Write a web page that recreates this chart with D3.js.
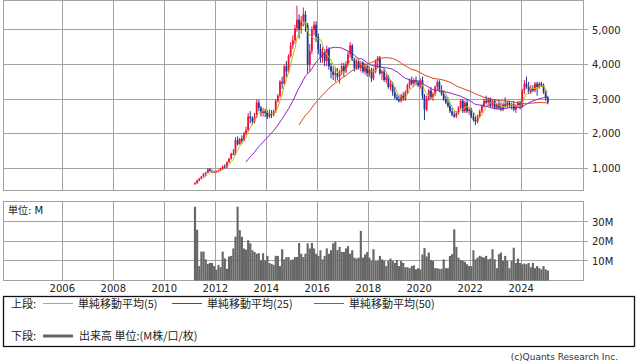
<!DOCTYPE html>
<html>
<head>
<meta charset="utf-8">
<script src="https://cdn.jsdelivr.net/npm/d3@7/dist/d3.min.js"></script>
<style>
  body { margin: 0; background: #fff; }
  svg { display: block; font-family: "DejaVu Sans", "Noto Sans CJK JP", sans-serif; }
</style>
</head>
<body>
<div class="vis-chart"></div>
<script>
// monthly bars, first one is March 2011
const startYear = 2011, startMonth = 2;

// rows: 2011 (Mar-Dec), then one row per year, last row Jan 2025
const opens = [
  540, 570, 650, 700, 760, 840, 880, 970, 920, 890,
  900, 910, 940, 1000, 1050, 1020, 1180, 1280, 1420, 1400, 1820, 1700,
  1850, 1800, 2000, 2100, 2500, 2450, 2350, 2500, 2900, 2750, 2600, 2650,
  2600, 2500, 2600, 2550, 2650, 2950, 3100, 3500, 3450, 3950, 3800, 4250,
  4550, 4700, 5050, 5300, 5000, 5250, 5450, 5150, 4000, 4400, 5000, 5150,
  4800, 4450, 4200, 4350, 4100, 4450, 3950, 3800, 3700, 3750, 3650, 3800,
  3950, 3800, 4000, 4300, 4550, 4150, 3900, 4100, 3900, 4050, 3800, 3950,
  3750, 3850, 3600, 3800, 4100, 4200, 3750, 3800, 3550, 3650, 3350, 3450,
  3200, 3050, 3000, 2950, 3100, 3000, 3200, 3400, 3550, 3450, 3550, 3500,
  3400, 3550, 3100, 2700, 3000, 3250, 3050, 3150, 3350, 3500, 3250, 3150,
  3000, 2900, 2800, 2650, 2550, 2500, 2600, 2750, 2950, 2650, 2900, 2650,
  2700, 2500, 2400, 2350, 2500, 2650, 2800, 2950, 2900, 3000, 2800, 2950,
  2750, 2850, 2750, 2700, 2850, 2800, 2900, 2800, 2850, 2700, 2800, 2900,
  2800, 3250, 3450, 3350, 3200, 3300, 3250, 3450, 3350, 3450, 3400, 3200,
  3050
];
const highs = [
  600, 670, 720, 780, 860, 900, 1000, 1010, 960, 930,
  940, 960, 1020, 1080, 1120, 1200, 1300, 1450, 1550, 1900, 1920, 1880,
  1950, 2050, 2200, 2600, 2650, 2500, 2600, 3000, 2980, 2800, 2750, 2720,
  2680, 2700, 2680, 2700, 3000, 3150, 3550, 3650, 4000, 4100, 4300, 4650,
  4850, 5150, 5700, 5450, 5400, 5650, 5550, 5200, 4600, 5100, 5250, 5250,
  4900, 4600, 4500, 4450, 4550, 4500, 4050, 3950, 3900, 3900, 3850, 4050,
  4050, 4100, 4400, 4650, 4600, 4200, 4150, 4150, 4100, 4100, 4050, 4000,
  3950, 3900, 3900, 4150, 4250, 4250, 3850, 3900, 3750, 3700, 3550, 3500,
  3350, 3150, 3100, 3150, 3200, 3250, 3450, 3600, 3650, 3600, 3650, 3550,
  3600, 3650, 3150, 3100, 3300, 3350, 3200, 3400, 3550, 3550, 3400, 3250,
  3100, 3050, 2900, 2750, 2650, 2650, 2800, 3000, 3000, 2950, 3000, 2750,
  2750, 2600, 2500, 2550, 2700, 2850, 3000, 3100, 3050, 3050, 3000, 3000,
  2900, 2950, 2900, 2900, 3050, 2950, 2950, 2900, 2950, 2850, 2950, 2950,
  3300, 3550, 3650, 3500, 3400, 3400, 3500, 3500, 3500, 3500, 3450, 3250,
  3100
];
const lows = [
  520, 550, 620, 680, 740, 780, 860, 900, 860, 860,
  870, 890, 920, 960, 980, 1000, 1150, 1250, 1380, 1380, 1650, 1680,
  1720, 1780, 1950, 2050, 2300, 2250, 2300, 2450, 2650, 2500, 2500, 2480,
  2420, 2450, 2450, 2500, 2600, 2900, 3050, 3300, 3400, 3650, 3750, 4200,
  4450, 4600, 4950, 4750, 4900, 5100, 4950, 3750, 3800, 4300, 4850, 4650,
  4300, 4050, 4050, 3950, 3950, 3850, 3600, 3550, 3500, 3550, 3450, 3700,
  3650, 3750, 3950, 4200, 4100, 3800, 3850, 3850, 3800, 3750, 3700, 3650,
  3650, 3500, 3550, 3750, 3900, 3700, 3550, 3500, 3450, 3300, 3250, 3100,
  3000, 2950, 2900, 2900, 2950, 2950, 3150, 3300, 3400, 3350, 3400, 3350,
  3300, 3000, 2400, 2650, 2950, 3000, 2950, 3100, 3250, 3200, 3100, 2950,
  2850, 2750, 2600, 2500, 2450, 2450, 2550, 2700, 2600, 2600, 2600, 2550,
  2450, 2350, 2250, 2300, 2450, 2600, 2750, 2850, 2800, 2750, 2750, 2700,
  2700, 2700, 2650, 2650, 2750, 2750, 2750, 2700, 2650, 2600, 2750, 2700,
  2750, 3150, 3300, 3150, 3150, 3200, 3200, 3100, 3300, 3350, 3150, 2950,
  2850
];
const closes = [
  570, 650, 700, 760, 840, 880, 970, 920, 890, 900,
  910, 940, 1000, 1050, 1020, 1180, 1280, 1420, 1400, 1820, 1700, 1850,
  1800, 2000, 2100, 2500, 2450, 2350, 2500, 2900, 2750, 2600, 2650, 2600,
  2500, 2600, 2550, 2650, 2950, 3100, 3500, 3450, 3950, 3800, 4250, 4550,
  4700, 5050, 5300, 5000, 5250, 5450, 5150, 4000, 4400, 5000, 5150, 4800,
  4450, 4200, 4350, 4100, 4450, 3950, 3800, 3700, 3750, 3650, 3800, 3950,
  3800, 4000, 4300, 4550, 4150, 3900, 4100, 3900, 4050, 3800, 3950, 3750,
  3850, 3600, 3800, 4100, 4200, 3750, 3800, 3550, 3650, 3350, 3450, 3200,
  3050, 3000, 2950, 3100, 3000, 3200, 3400, 3550, 3450, 3550, 3500, 3400,
  3550, 3100, 2700, 3000, 3250, 3050, 3150, 3350, 3500, 3250, 3150, 3000,
  2900, 2800, 2650, 2550, 2500, 2600, 2750, 2950, 2650, 2900, 2650, 2700,
  2500, 2400, 2350, 2500, 2650, 2800, 2950, 2900, 3000, 2800, 2950, 2750,
  2850, 2750, 2700, 2850, 2800, 2900, 2800, 2850, 2700, 2800, 2900, 2800,
  3250, 3450, 3350, 3200, 3300, 3250, 3450, 3350, 3450, 3400, 3200, 3050,
  2900
];
// volume, millions
const volumes = [
  37.8, 26, 7.4, 14.8, 14.8, 10.8, 8.5, 9, 9, 7.4,
  5.5, 8, 6.8, 14.8, 11.3, 6, 12.3, 12.6, 16.4, 22.4, 37.8, 25.8,
  22.4, 16.4, 15.8, 20.6, 19, 15.5, 14.6, 13.7, 14, 10.3, 14, 10.3,
  12.6, 9, 8.5, 8, 12.6, 12.6, 7.4, 16, 10.8, 12, 12, 10.3,
  10.8, 12, 12, 19.2, 13.7, 12, 13.7, 19, 16.4, 19.2, 16.4, 13.7,
  12.6, 15.5, 10.8, 12.6, 16.4, 13.7, 15.5, 19, 19.9, 15.5, 17.2, 14.6,
  14.6, 16.4, 17.6, 13.7, 15.5, 11.7, 11.3, 11.7, 25.4, 11.7, 13.3, 14.6,
  11.7, 10, 16, 10, 10, 12.6, 10.8, 10, 7.4, 10, 11.2, 10,
  9, 10.5, 7.4, 10, 9, 6.8, 6.8, 6.3, 7.4, 7.7, 5.7, 6.3,
  5.7, 13.3, 16.6, 12.3, 14.3, 10.5, 10, 6.3, 6.3, 5.9, 6, 10.8,
  6.3, 6.3, 12.6, 13.5, 26.2, 17.2, 11.7, 10.5, 10, 9.6, 8.3, 7.4,
  7.4, 15.5, 10.8, 11.7, 12.6, 12.1, 11.7, 12.6, 10.8, 11.2, 16, 10.8,
  6.3, 13.5, 14.3, 10, 12.6, 10, 6.3, 10, 16.8, 9, 11.2, 9,
  8.3, 8.7, 8.3, 9, 6.8, 9, 6.3, 7.4, 6.3, 5.7, 7.4, 5.7,
  5.1
];

const yearTicks = [2006, 2008, 2010, 2012, 2014, 2016, 2018, 2020, 2022, 2024];
const priceTicks = [1000, 2000, 3000, 4000, 5000];
const volumeTicks = [10, 20, 30];
const maPeriods = [5, 25, 50];
const maColors = ["#b3c000", "#8a1fc9", "#d9410f"];
const maLabels = ["単純移動平均(5)", "単純移動平均(25)", "単純移動平均(50)"];

const width = 638, height = 362;
const left = 3, right = 583;
const pTop = 0.5, pBottom = 190;
const vTop = 201, vBottom = 280;

const svg = d3.select('.vis-chart').append('svg')
    .attr('width', width)
    .attr('height', height);

const rows = closes.map((c, i) => ({
    start: new Date(startYear, startMonth + i, 1),
    end: new Date(startYear, startMonth + i + 1, 1),
    mid: new Date(startYear, startMonth + i, 16),
    o: opens[i], h: highs[i], l: lows[i], c: c, v: volumes[i]
}));

const x = d3.scaleTime()
    .domain([new Date(2003, 8, 4), new Date(2026, 5, 4)])
    .range([left, right]);
const y = d3.scaleLinear().domain([372, 5853]).range([pBottom, pTop]);
const yv = d3.scaleLinear().domain([0, 40.7]).range([vBottom + 0.5, vTop]);

const gridColor = '#a3a3a3';
const yearDates = yearTicks.map(t => new Date(t, 0, 1));

// panels: grid + border
function panel(top, bottom, yScale, ticks, fmt) {
    const g = svg.append('g').attr('shape-rendering', 'crispEdges');
    g.selectAll('.vg').data(yearDates).join('line')
        .attr('x1', d => x(d)).attr('x2', d => x(d))
        .attr('y1', top).attr('y2', bottom)
        .attr('stroke', gridColor);
    g.selectAll('.hg').data(ticks).join('line')
        .attr('x1', left).attr('x2', right + 5)
        .attr('y1', d => yScale(d)).attr('y2', d => yScale(d))
        .attr('stroke', gridColor);
    g.append('rect')
        .attr('x', left).attr('y', top)
        .attr('width', right - left).attr('height', bottom - top)
        .attr('fill', 'none').attr('stroke', gridColor);
    svg.append('g').selectAll('text').data(ticks).join('text')
        .attr('x', right + 9)
        .attr('y', d => yScale(d) + 3.6)
        .attr('font-size', 10)
        .attr('fill', '#222')
        .text(fmt);
}
panel(pTop, pBottom, y, priceTicks, d3.format(','));
panel(vTop, vBottom, yv, volumeTicks, d => d + 'M');

svg.append('defs').append('clipPath').attr('id', 'pclip')
    .append('rect').attr('x', left).attr('y', pTop)
    .attr('width', right - left).attr('height', pBottom - pTop);

// candles
const up = '#f0103f', down = '#1b3a94';
const cg = svg.append('g').attr('clip-path', 'url(#pclip)');
cg.selectAll('.wick').data(rows).join('line')
    .attr('x1', d => x(d.mid)).attr('x2', d => x(d.mid))
    .attr('y1', d => y(d.h)).attr('y2', d => y(d.l))
    .attr('stroke', d => d.c >= d.o ? up : down)
    .attr('stroke-width', 1);
cg.selectAll('.body').data(rows).join('rect')
    .attr('x', d => x(d.mid) - 0.9)
    .attr('width', 1.8)
    .attr('y', d => y(Math.max(d.o, d.c)))
    .attr('height', d => Math.max(1, Math.abs(y(d.o) - y(d.c))))
    .attr('fill', d => d.c >= d.o ? up : down);

// moving averages
maPeriods.forEach((n, k) => {
    const pts = rows.map((d, i) => ({
        date: d.mid,
        v: i < n - 1 ? null : d3.mean(closes.slice(i - n + 1, i + 1))
    }));
    cg.append('path')
        .datum(pts)
        .attr('fill', 'none')
        .attr('stroke', maColors[k])
        .attr('stroke-width', 1)
        .attr('d', d3.line().defined(d => d.v != null).x(d => x(d.date)).y(d => y(d.v)));
});

// volume bars
svg.append('g').selectAll('rect').data(rows).join('rect')
    .attr('x', d => x(d.start))
    .attr('width', d => x(d.end) - x(d.start))
    .attr('y', d => yv(d.v))
    .attr('height', d => yv(0) - yv(d.v))
    .attr('fill', '#666');

svg.append('text')
    .attr('x', 8).attr('y', 213.5)
    .attr('font-size', 10).attr('fill', '#222')
    .text('単位: M');

// year labels
svg.append('g').selectAll('text').data(yearDates).join('text')
    .attr('x', d => x(d))
    .attr('y', 292)
    .attr('text-anchor', 'middle')
    .attr('font-size', 10)
    .attr('fill', '#222')
    .text(d => d.getFullYear());

// legend
const lg = svg.append('g').attr('font-family', '"Noto Sans CJK JP", "DejaVu Sans", sans-serif')
    .attr('font-size', 11).attr('fill', '#222');
lg.append('rect')
    .attr('x', 3.5).attr('y', 296.5).attr('width', 631).attr('height', 50)
    .attr('fill', 'none').attr('stroke', '#111').attr('stroke-width', 1.3);
lg.append('text').attr('x', 11).attr('y', 307.5).text('上段:');
const legX = [43, 172, 314];
maLabels.forEach((t, k) => {
    lg.append('line')
        .attr('x1', legX[k]).attr('x2', legX[k] + 30)
        .attr('y1', 303.5).attr('y2', 303.5)
        .attr('stroke', maColors[k]).attr('stroke-width', 1);
    lg.append('text').attr('x', legX[k] + 35).attr('y', 307.5).text(t);
});
lg.append('text').attr('x', 11).attr('y', 340).text('下段:');
lg.append('line')
    .attr('x1', 43).attr('x2', 73).attr('y1', 336).attr('y2', 336)
    .attr('stroke', '#666').attr('stroke-width', 3);
lg.append('text').attr('x', 79).attr('y', 340).text('出来高 単位:(M株/口/枚)');

svg.append('text')
    .attr('x', 618).attr('y', 359.5)
    .attr('text-anchor', 'end')
    .attr('font-size', 9).attr('fill', '#333')
    .text('(c)Quants Research Inc.');
</script>
</body>
</html>
